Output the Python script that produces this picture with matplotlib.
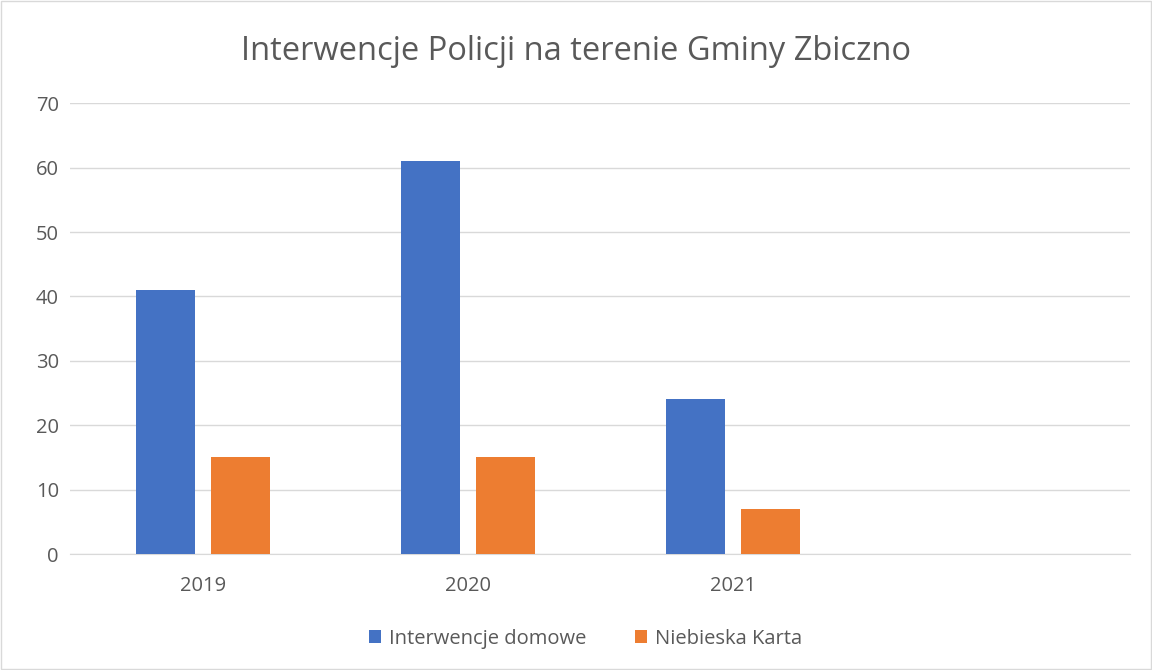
import matplotlib.pyplot as plt
import numpy as np

years = ["2019", "2020", "2021", ""]
interwencje = [41, 61, 24, None]
niebieska = [15, 15, 7, None]

blue = "#4472C4"
orange = "#ED7D31"
txt = "#595959"

plt.rcParams['font.family'] = ['Open Sans', 'DejaVu Sans']

fig = plt.figure(figsize=(11.52, 6.70), dpi=100)
ax = fig.add_axes([0.0608, 0.173, 0.9203, 0.673])

x = np.arange(len(years))
w = 0.223
gap = 0.06
vals1 = [v if v is not None else 0 for v in interwencje]
vals2 = [v if v is not None else 0 for v in niebieska]
ax.bar(x[:3] - (w + gap) / 2, vals1[:3], w, color=blue, label="Interwencje domowe", zorder=3)
ax.bar(x[:3] + (w + gap) / 2, vals2[:3], w, color=orange, label="Niebieska Karta", zorder=3)

ax.set_xlim(-0.5, len(years) - 0.5)
ax.set_ylim(0, 70)
ax.set_yticks(range(0, 71, 10))
ax.set_xticks(x)
ax.set_xticklabels(years)
ax.grid(axis="y", color="#D9D9D9", linewidth=1, zorder=0)
for s in ["top", "right", "left"]:
    ax.spines[s].set_visible(False)
ax.spines["bottom"].set_color("#D9D9D9")
ax.tick_params(axis="both", length=0, labelsize=14.5, colors=txt)
ax.tick_params(axis="x", pad=16)
ax.tick_params(axis="y", pad=8)

fig.suptitle("Interwencje Policji na terenie Gminy Zbiczno", y=0.948, fontsize=23.5, color=txt)

fig.legend(loc="lower center", bbox_to_anchor=(0.508, 0.005), ncol=2, frameon=False,
           fontsize=14.5, labelcolor=txt, handlelength=0.6, handleheight=0.6,
           handletextpad=0.4, columnspacing=2.4)

fig.patches.append(plt.Rectangle((0.001, 0.001), 0.998, 0.998, transform=fig.transFigure,
                                 fill=False, edgecolor="#D9D9D9", linewidth=1))

fig.savefig("out.png", dpi=100)
